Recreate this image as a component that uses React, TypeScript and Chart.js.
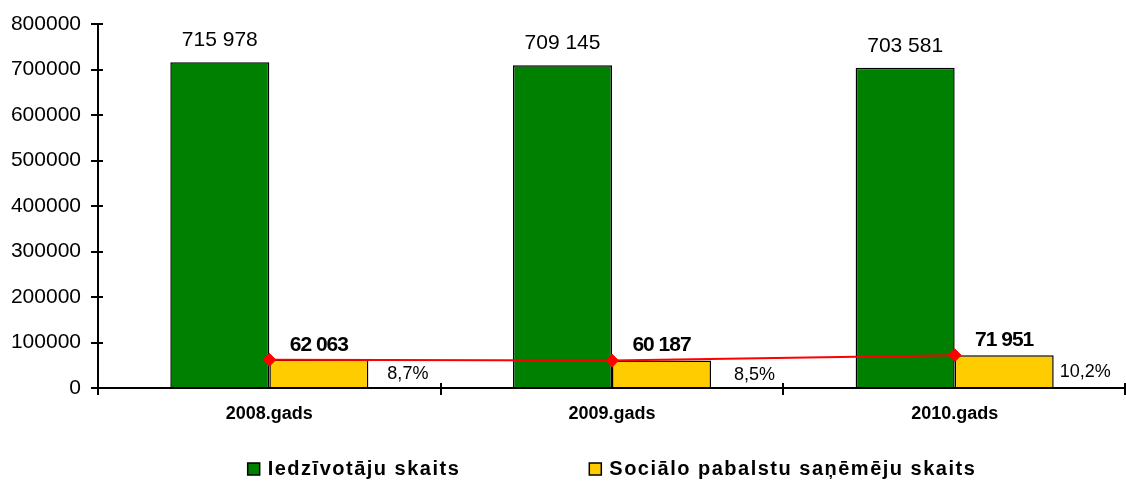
import React, { useEffect, useRef } from 'react';
import { Chart, registerables } from 'chart.js';

Chart.register(...registerables);

const categories = ['2008.gads', '2009.gads', '2010.gads'];
const residents = [715978, 709145, 703581];
const recipients = [62063, 60187, 71951];
const sharePercent = [8.7, 8.5, 10.2];
const seriesNames = ['Iedzīvotāju skaits', 'Sociālo pabalstu saņēmēju skaits'];
const yMax = 800000;
const yStep = 100000;

const GREEN = '#008000';
const YELLOW = '#FFCC00';
const RED = '#FF0000';
const FONT = '"Liberation Sans", Arial, sans-serif';

const shareGap = [19, 23, 6];

const fmtThousands = (n: number) => String(n).replace(/\B(?=(\d{3})+(?!\d))/g, ' ');
const fmtPct = (n: number) => n.toFixed(1).replace('.', ',') + '%';

const overlay = {
  id: 'overlay',
  afterDatasetsDraw(chart: any) {
    const ctx = chart.ctx;
    const { left, right, bottom } = chart.chartArea;
    ctx.save();
    ctx.fillStyle = '#000';
    ctx.textBaseline = 'middle';
    // inner halves of crossing tick marks
    ctx.strokeStyle = '#000';
    ctx.lineWidth = 2;
    const ys = chart.scales.y;
    ys.ticks.forEach((t: any) => {
      const py = Math.round(ys.getPixelForValue(t.value));
      ctx.beginPath();
      ctx.moveTo(left, py);
      ctx.lineTo(left + 5, py);
      ctx.stroke();
    });
    const n = categories.length;
    for (let i = 0; i <= n; i++) {
      const px = Math.min(Math.round(left + (i * (right - left)) / n), right - 1);
      ctx.beginPath();
      ctx.moveTo(px, bottom - 5);
      ctx.lineTo(px, bottom + 7);
      ctx.stroke();
    }

    const green = chart.getDatasetMeta(1).data;
    const yellow = chart.getDatasetMeta(2).data;
    green.forEach((b: any, i: number) => {
      const p = b.getProps(['x', 'y', 'width'], true);
      ctx.textAlign = 'center';
      ctx.letterSpacing = '0px';
      ctx.font = `21px ${FONT}`;
      ctx.fillText(fmtThousands(residents[i]), p.x, p.y - 22);
    });
    yellow.forEach((b: any, i: number) => {
      const p = b.getProps(['x', 'y', 'width', 'base'], true);
      ctx.textAlign = 'center';
      ctx.letterSpacing = '-1px';
      ctx.font = `bold 21px ${FONT}`;
      ctx.fillText(fmtThousands(recipients[i]), p.x, p.y - 15);
      ctx.textAlign = 'left';
      ctx.letterSpacing = '0px';
      ctx.font = `18px ${FONT}`;
      ctx.fillText(fmtPct(sharePercent[i]), p.x + p.width / 2 + shareGap[i], (p.y + p.base) / 2 + 1);
    });
    ctx.restore();
  },
  afterDraw(chart: any) {
    const ctx = chart.ctx;
    const { left, right } = chart.chartArea;
    ctx.save();
    ctx.font = `bold 20px ${FONT}`;
    ctx.letterSpacing = '1.5px';
    ctx.textBaseline = 'middle';
    ctx.textAlign = 'left';
    const colors = [GREEN, YELLOW];
    const box = 12;
    const boxGap = 8;
    const itemGap = 129;
    const widths = seriesNames.map((s) => box + boxGap + ctx.measureText(s).width);
    const total = widths.reduce((a, b) => a + b, 0) + itemGap * (seriesNames.length - 1);
    let x = (left + right) / 2 - total / 2;
    const yMid = 469;
    seriesNames.forEach((s, i) => {
      ctx.fillStyle = colors[i];
      ctx.fillRect(x, yMid - box / 2, box, box);
      ctx.strokeStyle = '#000';
      ctx.lineWidth = 1.5;
      ctx.strokeRect(x, yMid - box / 2, box, box);
      ctx.fillStyle = '#000';
      ctx.fillText(s, x + box + boxGap, yMid);
      x += widths[i] + itemGap;
    });
    ctx.restore();
  },
};

export default function App() {
  const ref = useRef<HTMLCanvasElement | null>(null);
  useEffect(() => {
    document.body.style.margin = '0';
    const canvas = ref.current;
    if (!canvas) return;
    const chart = new Chart(canvas, {
      type: 'bar',
      data: {
        labels: categories,
        datasets: [
          {
            type: 'line',
            label: 'share',
            data: recipients,
            borderColor: RED,
            borderWidth: 2,
            pointStyle: 'rectRot',
            pointRadius: 6.5,
            pointBackgroundColor: RED,
            pointBorderColor: RED,
            pointBorderWidth: 1,
            order: 0,
          } as any,
          {
            label: seriesNames[0],
            data: residents,
            backgroundColor: GREEN,
            borderColor: '#000',
            borderWidth: 1.5,
            order: 1,
          },
          {
            label: seriesNames[1],
            data: recipients,
            backgroundColor: YELLOW,
            borderColor: '#000',
            borderWidth: 1.5,
            order: 2,
          },
        ],
      },
      options: {
        responsive: false,
        animation: false,
        events: [],
        layout: { autoPadding: false, padding: { top: 24, left: 0, right: 0, bottom: 0 } },
        datasets: {
          bar: { categoryPercentage: 0.578, barPercentage: 1 },
        },
        plugins: { legend: { display: false }, tooltip: { enabled: false } },
        scales: {
          x: {
            offset: true,
            grid: {
              offset: true,
              drawOnChartArea: false,
              drawTicks: true,
              tickLength: 15,
              tickColor: 'rgba(0,0,0,0)',
              color: 'rgba(0,0,0,0)',
              lineWidth: 0,
            },
            border: { color: '#000', width: 2 },
            ticks: { color: '#000', font: { family: FONT, size: 18, weight: 'bold' }, padding: 0 },
            afterFit: (s: any) => {
              s.height = 94;
              s.paddingLeft = 0;
              s.paddingRight = 0;
            },
          },
          y: {
            min: 0,
            max: yMax,
            grid: {
              drawOnChartArea: false,
              drawTicks: true,
              tickLength: 7,
              color: '#000',
              lineWidth: 2,
            },
            border: { color: '#000', width: 2 },
            ticks: {
              stepSize: yStep,
              color: '#000',
              font: { family: FONT, size: 21 },
              padding: 10,
              callback: (v: any) => String(v),
            },
            afterFit: (s: any) => {
              s.width = 98;
            },
          },
        },
      },
      plugins: [overlay],
    });
    return () => chart.destroy();
  }, []);
  return (
    <div style={{ position: 'absolute', left: 0, top: 0, width: 1126, height: 482 }}>
      <canvas ref={ref} width={1126} height={482} />
    </div>
  );
}
